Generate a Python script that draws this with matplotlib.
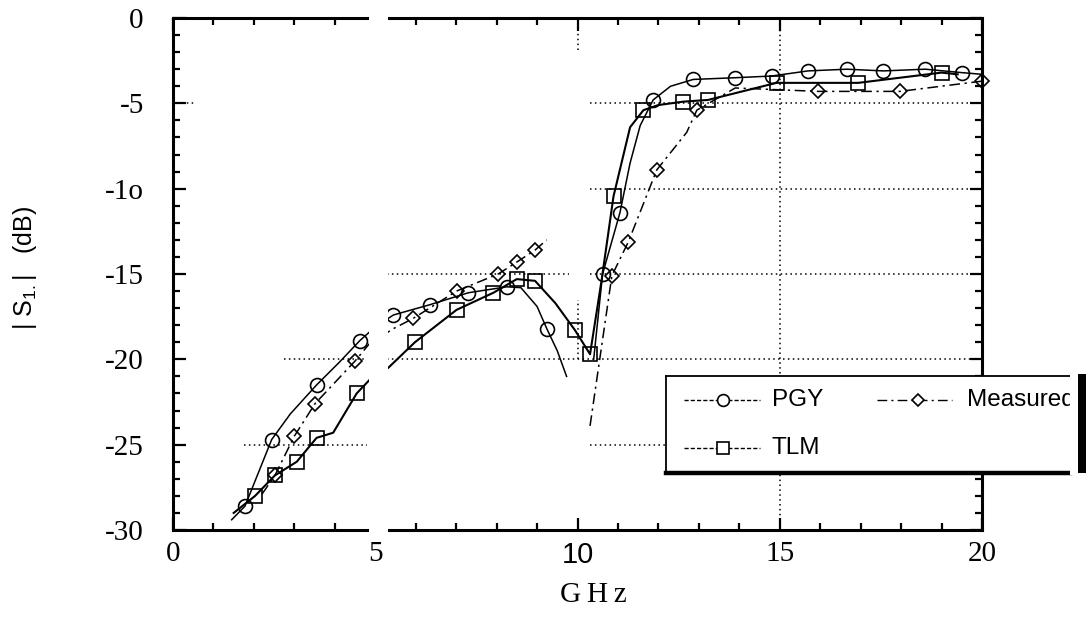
import numpy as np
import matplotlib
matplotlib.use("Agg")
import matplotlib.pyplot as plt
from matplotlib.lines import Line2D
from matplotlib.patches import Rectangle
from matplotlib.ticker import MultipleLocator

nan = np.nan

# ---------------- data ----------------
x_ticks = [0, 5, 10, 15, 20]
x_ticklabels = ["0", "5", "10", "15", "20"]
y_ticks = [0, -5, -10, -15, -20, -25, -30]
y_ticklabels = ["0", "-5", "-1o", "-15", "-20", "-25", "-30"]

series_names = ["PGY", "TLM", "Measured"]

pgy_x = [1.45, 1.78, 2.44, 2.9, 3.55, 4.1, 4.62, 5.0, 5.45, 6.35, 7.3, 8.25, 8.6, 9.0,
         9.24, 9.5, 9.73, nan, 10.4, 10.62, 11.05, 11.3, 11.55, 11.87, 12.3, 12.86,
         13.9, 14.8, 15.7, 16.66, 17.56, 18.6, 19.5, 20.0]
pgy_y = [-29.4, -28.6, -24.7, -23.2, -21.5, -20.2, -18.9, -18.1, -17.4, -16.8, -16.1,
         -15.75, -15.8, -16.9, -18.2, -19.5, -21.0, nan, -20.0, -15.0, -11.4, -8.5,
         -6.3, -4.8, -4.0, -3.6, -3.5, -3.4, -3.1, -3.0, -3.1, -3.0, -3.2, -3.3]
pgy_mx = [1.78, 2.44, 3.55, 4.62, 5.45, 6.35, 7.3, 8.25, 9.24, 10.62, 11.05, 11.87,
          12.86, 13.9, 14.8, 15.7, 16.66, 17.56, 18.6, 19.5]
pgy_my = [-28.6, -24.7, -21.5, -18.9, -17.4, -16.8, -16.1, -15.75, -18.2, -15.0, -11.4,
          -4.8, -3.6, -3.5, -3.4, -3.1, -3.0, -3.1, -3.0, -3.2]

tlm_x = [1.5, 2.03, 2.52, 3.06, 3.55, 3.96, 4.54, 4.9, 5.32, 5.98, 7.01, 7.92, 8.5,
         8.95, 9.45, 9.94, 10.31, 10.6, 10.89, 11.3, 11.63, 12.0, 12.62, 13.23, 14.92,
         16.94, 19.0, 19.4]
tlm_y = [-29.0, -28.0, -26.8, -26.0, -24.6, -24.3, -22.0, -21.1, -20.5, -19.0, -17.1,
         -16.1, -15.3, -15.4, -16.7, -18.3, -19.7, -15.3, -10.45, -6.4, -5.4, -5.1,
         -4.9, -4.8, -3.8, -3.8, -3.2, -3.3]
tlm_mx = [2.03, 2.52, 3.06, 3.55, 4.54, 5.98, 7.01, 7.92, 8.5, 8.95, 9.94, 10.31,
          10.89, 11.63, 12.62, 13.23, 14.92, 16.94, 19.0]
tlm_my = [-28.0, -26.8, -26.0, -24.6, -22.0, -19.0, -17.1, -16.1, -15.3, -15.4, -18.3,
          -19.7, -10.45, -5.4, -4.9, -4.8, -3.8, -3.8, -3.2]

meas_x = [2.2, 2.52, 3.0, 3.51, 4.5, 4.85, 5.45, 5.94, 7.01, 8.04, 8.5, 8.95, 9.24,
          nan, 10.31, 10.85, 11.26, 11.96, 12.7, 12.95, 13.9, 15.95, 17.97, 20.0]
meas_y = [-27.9, -26.8, -24.5, -22.6, -20.1, -19.1, -18.2, -17.6, -16.0, -15.0, -14.3,
          -13.6, -13.0, nan, -23.9, -15.1, -13.1, -8.9, -6.7, -5.4, -4.1, -4.3, -4.3,
          -3.7]
meas_mx = [2.52, 3.0, 3.51, 4.5, 5.94, 7.01, 8.04, 8.5, 8.95, 10.85, 11.26, 11.96,
           12.95, 15.95, 17.97, 20.0]
meas_my = [-26.8, -24.5, -22.6, -20.1, -17.6, -16.0, -15.0, -14.3, -13.6, -15.1, -13.1,
           -8.9, -5.4, -4.3, -4.3, -3.7]

# partial (scanned) dotted grid segments: (value, start, end)
hgrid = [(-5, 0.1, 0.55), (-5, 10.3, 20), (-10, 10.3, 20), (-15, 5.3, 9.8),
         (-15, 10.3, 20), (-20, 2.75, 4.8), (-20, 5.3, 20), (-25, 1.75, 4.8),
         (-25, 10.3, 20)]
vgrid = [(10, -1.9, 0), (10, -20, -16.5), (15, -30, 0)]

# ---------------- figure ----------------
W, H = 1086, 617
fig = plt.figure(figsize=(W / 100, H / 100), dpi=100)
fig.patch.set_facecolor("white")

def fx(px):
    return px / W

def fy(py):
    return 1 - py / H

ax_l, ax_r, ax_t, ax_b = 173, 982, 18, 530
ax = fig.add_axes([fx(ax_l), fy(ax_b), (ax_r - ax_l) / W, (ax_b - ax_t) / H])
ax.set_xlim(0, 20)
ax.set_ylim(-30, 0)

dot = (0, (1.0, 2.2))
for v, a, b in hgrid:
    ax.plot([a, b], [v, v], color="black", lw=1.1, linestyle=dot, zorder=1)
for v, a, b in vgrid:
    ax.plot([v, v], [a, b], color="black", lw=1.1, linestyle=dot, zorder=1)

styles = {
    "PGY": dict(marker="o", ms=10, lw=1.1, ls="-"),
    "TLM": dict(marker="s", ms=9.5, lw=1.5, ls="-"),
    "Measured": dict(marker="D", ms=7, lw=1.1, ls=(0, (7, 3, 1.5, 3))),
}

def draw(name, x, y, mx, my):
    st = styles[name]
    ax.plot(x, y, color="black", lw=st["lw"], linestyle=st["ls"], zorder=3)
    ax.plot(mx, my, linestyle="none", marker=st["marker"], ms=st["ms"],
            mfc="none", mec="black", mew=1.2, zorder=4, clip_on=False)

draw("PGY", pgy_x, pgy_y, pgy_mx, pgy_my)
draw("TLM", tlm_x, tlm_y, tlm_mx, tlm_my)
draw("Measured", meas_x, meas_y, meas_mx, meas_my)

# axes styling
for s in ax.spines.values():
    s.set_linewidth(2.2)
ax.set_xticks(x_ticks)
ax.set_yticks(y_ticks)
ax.xaxis.set_minor_locator(MultipleLocator(1))
ax.yaxis.set_minor_locator(MultipleLocator(1))
ax.tick_params(which="both", direction="in", top=True, right=True, width=1.6)
ax.tick_params(which="major", length=9)
ax.tick_params(which="minor", length=5)
ax.tick_params(axis="x", which="major", pad=8)
ax.tick_params(axis="y", which="major", pad=21)
ax.set_xticklabels(x_ticklabels, fontfamily="Liberation Serif", fontsize=21)
ax.set_yticklabels(y_ticklabels, fontfamily="Liberation Serif", fontsize=21)
ax.get_xticklabels()[2].set_fontfamily(["Liberation Sans Narrow", "Liberation Sans"])

ax.set_xlabel("G\u2009H\u2009z", fontfamily="Liberation Serif", fontsize=21)
ax.xaxis.set_label_coords((593 - ax_l) / (ax_r - ax_l), -(595 - ax_b) / (ax_b - ax_t))
ax.xaxis.label.set_va("center")
ax.set_ylabel(r"| S$_{\mathregular{1.}}$|   (dB)", fontfamily="Liberation Sans",
              fontsize=18)
ax.yaxis.set_label_coords(-(ax_l - 25) / (ax_r - ax_l), (ax_b - 268) / (ax_b - ax_t))
ax.yaxis.label.set_va("center")

# scan gap (white vertical band)
fig.add_artist(Rectangle((fx(369), fy(536)), fx(388) - fx(369), fy(8) - fy(536),
                         transform=fig.transFigure, facecolor="white",
                         edgecolor="none", zorder=5))

# ---------------- legend (drawn by hand, clipped at the right as in the scan) --------
lx0, lx1, ly0, ly1 = 666, 1070, 376, 473
fig.add_artist(Rectangle((fx(lx0), fy(ly1)), fx(lx1) - fx(lx0), fy(ly0) - fy(ly1),
                         transform=fig.transFigure, facecolor="white",
                         edgecolor="none", zorder=6))
fig.add_artist(Line2D([fx(lx0), fx(lx1)], [fy(ly0), fy(ly0)], color="black", lw=1.3,
                      transform=fig.transFigure, zorder=7))
fig.add_artist(Line2D([fx(lx0), fx(lx0)], [fy(ly0), fy(ly1)], color="black", lw=1.3,
                      transform=fig.transFigure, zorder=7))
fig.add_artist(Line2D([fx(lx0), fx(lx1)], [fy(ly1), fy(ly1)], color="black", lw=3.2,
                      transform=fig.transFigure, zorder=7))

entries = [("PGY", 684, 760, 723, 400, 772),
           ("TLM", 684, 760, 723, 448, 772),
           ("Measured", 877, 952, 918, 400, 967)]
for name, a, b, m, yy, tx in entries:
    st = styles[name]
    ls = st["ls"] if name == "Measured" else (0, (3, 1.5))
    fig.add_artist(Line2D([fx(a), fx(b)], [fy(yy), fy(yy)], color="black", lw=1.0,
                          linestyle=ls, transform=fig.transFigure, zorder=7))
    fig.add_artist(Line2D([fx(m)], [fy(yy)], marker=st["marker"], ms=st["ms"] * 0.85,
                          mfc="white", mec="black", mew=1.2, linestyle="none",
                          transform=fig.transFigure, zorder=8))
    fig.text(fx(tx), fy(yy), name, ha="left", va="center", fontsize=17.5,
             fontfamily=["Liberation Sans Narrow", "Liberation Sans"], zorder=8)

fig.add_artist(Rectangle((fx(lx1), fy(ly1 + 2)), fx(1078) - fx(lx1), fy(ly0 - 4) - fy(ly1 + 2),
                         transform=fig.transFigure, facecolor="white",
                         edgecolor="none", zorder=9))
fig.add_artist(Rectangle((fx(1078), fy(473)), fx(1086) - fx(1078), fy(374) - fy(473),
                         transform=fig.transFigure, facecolor="black",
                         edgecolor="none", zorder=9))

fig.savefig("out.png", dpi=100, facecolor="white")
